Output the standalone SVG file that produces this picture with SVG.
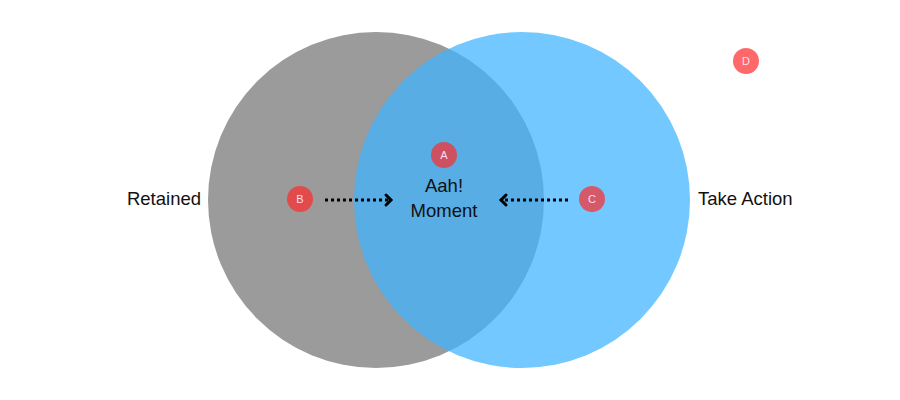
<svg xmlns="http://www.w3.org/2000/svg" width="900" height="400" viewBox="0 0 900 400">
<defs>
<style>
.lbl{font-family:"Liberation Sans","DejaVu Sans",sans-serif;font-size:18.5px;fill:#111;}
.dot{fill:rgb(255,41,41);fill-opacity:0.7;}
.dt{font-family:"Liberation Sans",sans-serif;font-size:11px;fill:#fde;text-anchor:middle;}
.arr{stroke:#000;stroke-width:3;stroke-dasharray:3 3;fill:none;}
.head{stroke:#000;stroke-width:3;fill:none;stroke-linecap:round;stroke-linejoin:miter;}
</style>
</defs>
<rect width="900" height="400" fill="#fff"/>
<g id="retained-circle"><circle cx="376" cy="200" r="168" fill="#9b9b9b"/></g>
<g id="action-circle"><circle cx="522" cy="200" r="168" fill="rgb(62,180,255)" fill-opacity="0.73"/></g>
<g id="label-retained"><text class="lbl" x="201" y="205" text-anchor="end">Retained</text></g>
<g id="label-action"><text class="lbl" x="698" y="205">Take Action</text></g>
<g id="label-aah"><text class="lbl" x="444" y="192" text-anchor="middle">Aah!</text><text class="lbl" x="444" y="217" text-anchor="middle">Moment</text></g>
<g id="connectors">
<line class="arr" x1="325" y1="200" x2="388" y2="200"/>
<polyline class="head" points="386,195 391,200 386,205"/>
<line class="arr" x1="568" y1="200" x2="505" y2="200"/>
<polyline class="head" points="506,195 501,200 506,205"/>
</g>
<g id="node-A"><circle class="dot" cx="444" cy="155" r="13"/><text class="dt" x="444" y="159">A</text></g>
<g id="node-B"><circle class="dot" cx="300" cy="199" r="13"/><text class="dt" x="300" y="203">B</text></g>
<g id="node-C"><circle class="dot" cx="592" cy="199" r="13"/><text class="dt" x="592" y="203">C</text></g>
<g id="node-D"><circle class="dot" cx="746" cy="61" r="13"/><text class="dt" x="746" y="65">D</text></g>
</svg>
